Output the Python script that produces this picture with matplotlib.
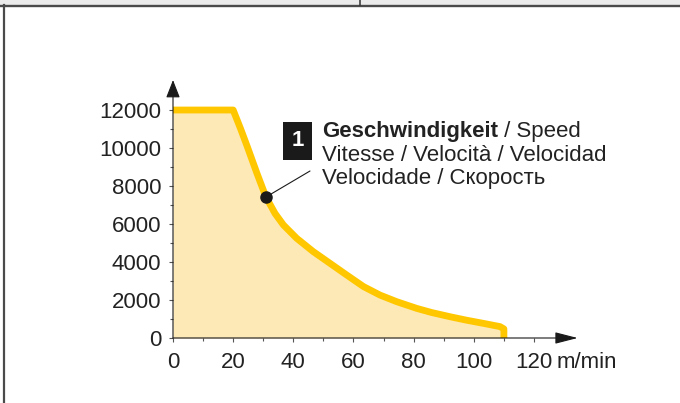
import matplotlib.pyplot as plt
from matplotlib.patches import Rectangle
from matplotlib.lines import Line2D

# speed curve: motor rpm vs travel speed
speed = [0, 20, 22.5, 24.7, 27.9, 30.9, 33.9, 36.7, 41.1, 46.6, 52.2, 57.7, 63.3, 68.8,
         74.4, 81, 86, 92.1, 97.5, 103.2, 108.7, 110, 110]
rpm = [12000, 12000, 11000, 10070, 8670, 7420, 6560, 5950, 5250, 4550, 3930, 3320, 2710, 2260,
       1910, 1560, 1340, 1120, 940, 770, 600, 480, 0]
dot = (30.9, 7420)

x_ticks = [0, 20, 40, 60, 80, 100, 120]
y_ticks = [0, 2000, 4000, 6000, 8000, 10000, 12000]
label_lines = ['Vitesse / Velocità / Velocidad', 'Velocidade / Скорость']

W, H = 680, 403
plt.rcParams['font.family'] = ['Liberation Sans', 'DejaVu Sans']
fig = plt.figure(figsize=(W / 100, H / 100), dpi=100)

# page frame bits
fig.patches.append(Rectangle((0, 1 - 5 / H), 1, 5 / H, transform=fig.transFigure,
                             facecolor='#ebebeb', edgecolor='none'))
fig.add_artist(Line2D([0, 1], [1 - 5.7 / H] * 2, transform=fig.transFigure, color='#4a4a4a', lw=1.7))
fig.add_artist(Line2D([360 / W] * 2, [1 - 5 / H, 1], transform=fig.transFigure, color='#333333', lw=1.1))
fig.add_artist(Line2D([4 / W] * 2, [0, 1 - 5 / H], transform=fig.transFigure, color='#4a4a4a', lw=1.6))

ax = fig.add_axes([173 / W, (H - 338) / H, 404.6 / W, 258 / H])
ax.set_xlim(0, 134.5)
ax.set_ylim(0, 13580)
for s in ax.spines.values():
    s.set_visible(False)

ax.fill_between(speed, rpm, 0, color='#fde9b6', lw=0, zorder=1)
ax.plot(speed, rpm, color='#ffc700', lw=4.9, solid_joinstyle='round', solid_capstyle='butt', zorder=2)

# axis arrows
ax.annotate('', xy=(134.5, 0), xytext=(0, 0),
            arrowprops=dict(arrowstyle='-|>,head_length=14,head_width=3.6', mutation_scale=1,
                            color='#1a1a1a', lw=0.8, shrinkA=0, shrinkB=0), annotation_clip=False, zorder=4)
ax.annotate('', xy=(0, 13580), xytext=(0, 0),
            arrowprops=dict(arrowstyle='-|>,head_length=11,head_width=4.3', mutation_scale=1,
                            color='#1a1a1a', lw=0.8, shrinkA=0, shrinkB=0), annotation_clip=False, zorder=4)

ax.set_xticks(x_ticks)
ax.set_xticks(range(10, 130, 20), minor=True)
ax.set_yticks(y_ticks)
ax.set_yticks(range(1000, 13000, 2000), minor=True)
ax.tick_params(which='both', direction='out', color='#555555', width=0.8, labelsize=16, labelcolor='#222222')
ax.tick_params(axis='y', which='major', length=3, pad=5.5)
ax.tick_params(axis='y', which='minor', length=2)
ax.tick_params(axis='x', which='major', length=3, pad=7)
ax.tick_params(axis='x', which='minor', length=2.2)

ax.annotate('m/min', xy=(127.5, 0), xytext=(0, -10), textcoords='offset points',
            ha='left', va='top', fontsize=16, color='#222222', annotation_clip=False)

# marked point and leader line
ax.plot(*dot, 'o', color='#1a1a1a', ms=8, zorder=5)
ax.annotate('', xy=dot, xytext=(310, H - 171), textcoords='figure pixels',
            arrowprops=dict(arrowstyle='-', color='#1a1a1a', lw=0.8, shrinkA=0, shrinkB=0))

# numbered label
fig.patches.append(Rectangle((283 / W, (H - 160) / H), 29 / W, 38 / H, transform=fig.transFigure,
                             facecolor='#1a1a1a', edgecolor='none'))
fig.text(297.5 / W, (H - 141) / H, '1', color='white', fontsize=16, fontweight='bold',
         ha='center', va='center')
t1 = fig.text(322 / W, (H - 137) / H, 'Geschwindigkeit', fontsize=16, fontweight='bold',
              color='#222222', va='baseline')
ax.annotate(' / Speed', xy=(1, 0), xycoords=t1, va='bottom', ha='left', fontsize=16, color='#222222')
for i, line in enumerate(label_lines):
    fig.text(322 / W, (H - 137 - 23.5 * (i + 1)) / H, line, fontsize=16, color='#222222', va='baseline')

fig.savefig('out.png', dpi=100)
